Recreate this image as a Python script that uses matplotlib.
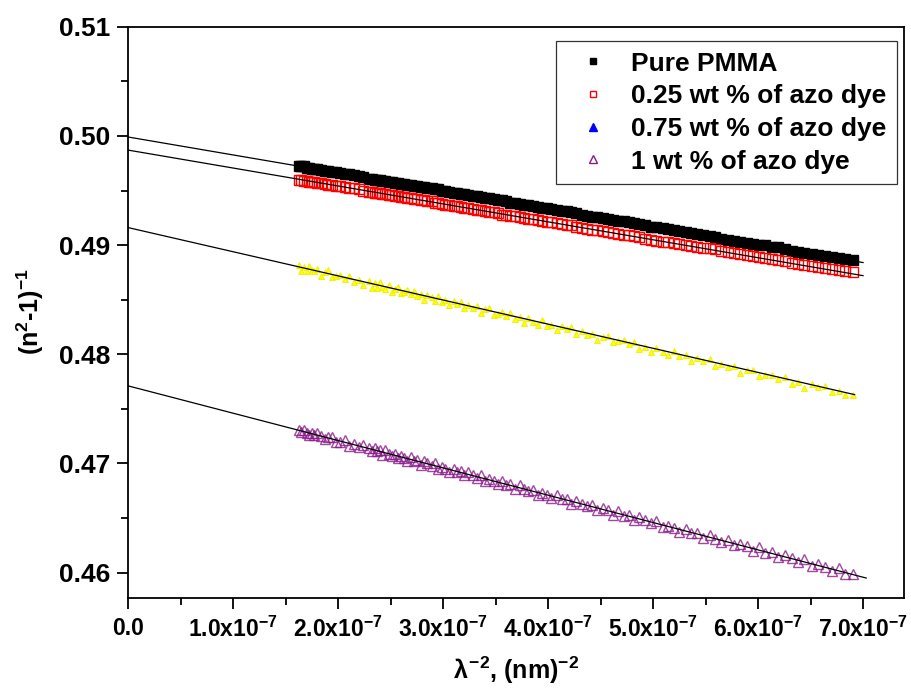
import numpy as np
import matplotlib
matplotlib.use("Agg")
import matplotlib.pyplot as plt
from matplotlib.lines import Line2D
from matplotlib.ticker import MultipleLocator, FormatStrFormatter

plt.rcParams["font.family"] = ["Liberation Sans", "DejaVu Sans"]
plt.rcParams["font.weight"] = "bold"
plt.rcParams["mathtext.fontset"] = "custom"
plt.rcParams["mathtext.rm"] = "Liberation Sans:bold"
plt.rcParams["mathtext.it"] = "Liberation Sans:bold"
plt.rcParams["mathtext.bf"] = "Liberation Sans:bold"

# lambda^-2 in units of 1e-7 nm^-2 (shared by all four samples)
x_vals = [1.63, 1.65, 1.67, 1.70, 1.72, 1.75, 1.77, 1.80, 1.84, 1.87,
          1.90, 1.94, 1.98, 2.02, 2.06, 2.10, 2.15, 2.20, 2.24,
          2.29, 2.32, 2.35, 2.37, 2.40, 2.42, 2.45, 2.48, 2.51, 2.54,
          2.57, 2.60, 2.63, 2.66, 2.69, 2.72, 2.75, 2.79, 2.82, 2.85,
          2.89, 2.92, 2.95, 2.99, 3.02, 3.06, 3.10, 3.13, 3.17, 3.20,
          3.24, 3.28, 3.32, 3.36, 3.40, 3.44, 3.48, 3.52, 3.56, 3.60,
          3.64, 3.68, 3.73, 3.77, 3.81, 3.86, 3.90, 3.94, 3.99, 4.03,
          4.08, 4.13, 4.18, 4.22, 4.27, 4.32, 4.37, 4.42, 4.47, 4.52,
          4.57, 4.62, 4.67, 4.72, 4.77, 4.82, 4.87, 4.92, 4.98, 5.03,
          5.09, 5.14, 5.20, 5.25, 5.31, 5.36, 5.42, 5.48, 5.54, 5.59,
          5.65, 5.71, 5.77, 5.83, 5.89, 5.95, 6.01, 6.07, 6.13, 6.19,
          6.26, 6.32, 6.38, 6.44, 6.51, 6.57, 6.64, 6.70, 6.77, 6.83,
          6.90]

pure_pmma = [0.4972, 0.4972, 0.4972, 0.4971, 0.4971, 0.4970, 0.4970, 0.4970, 0.4969, 0.4968,
             0.4968, 0.4967, 0.4967, 0.4966, 0.4965, 0.4965, 0.4964, 0.4963, 0.4962,
             0.4961, 0.4961, 0.4960, 0.4960, 0.4960, 0.4959, 0.4959, 0.4958, 0.4958, 0.4957,
             0.4957, 0.4956, 0.4956, 0.4955, 0.4955, 0.4954, 0.4954, 0.4953, 0.4953, 0.4952,
             0.4952, 0.4951, 0.4951, 0.4950, 0.4950, 0.4949, 0.4948, 0.4948, 0.4947, 0.4947,
             0.4946, 0.4945, 0.4945, 0.4944, 0.4943, 0.4943, 0.4942, 0.4941, 0.4941, 0.4940,
             0.4939, 0.4939, 0.4938, 0.4937, 0.4937, 0.4936, 0.4935, 0.4934, 0.4934, 0.4933,
             0.4932, 0.4931, 0.4931, 0.4930, 0.4929, 0.4928, 0.4927, 0.4926, 0.4926, 0.4925,
             0.4924, 0.4923, 0.4922, 0.4922, 0.4921, 0.4920, 0.4919, 0.4918, 0.4917, 0.4917,
             0.4916, 0.4915, 0.4914, 0.4913, 0.4912, 0.4911, 0.4910, 0.4909, 0.4908, 0.4907,
             0.4906, 0.4905, 0.4904, 0.4903, 0.4902, 0.4901, 0.4900, 0.4900, 0.4898, 0.4898,
             0.4896, 0.4895, 0.4894, 0.4893, 0.4892, 0.4891, 0.4890, 0.4889, 0.4888, 0.4887,
             0.4886]

dye_025 = [0.4960, 0.4960, 0.4959, 0.4959, 0.4958, 0.4958, 0.4958, 0.4957, 0.4957, 0.4956,
           0.4955, 0.4955, 0.4954, 0.4954, 0.4953, 0.4952, 0.4952, 0.4951, 0.4950,
           0.4949, 0.4949, 0.4948, 0.4948, 0.4948, 0.4947, 0.4947, 0.4946, 0.4946, 0.4945,
           0.4945, 0.4944, 0.4944, 0.4943, 0.4943, 0.4942, 0.4942, 0.4941, 0.4941, 0.4940,
           0.4940, 0.4939, 0.4939, 0.4938, 0.4937, 0.4937, 0.4936, 0.4936, 0.4935, 0.4934,
           0.4934, 0.4933, 0.4932, 0.4932, 0.4931, 0.4930, 0.4930, 0.4929, 0.4928, 0.4928,
           0.4927, 0.4927, 0.4926, 0.4925, 0.4924, 0.4924, 0.4923, 0.4922, 0.4921, 0.4921,
           0.4920, 0.4919, 0.4918, 0.4918, 0.4917, 0.4916, 0.4915, 0.4914, 0.4914, 0.4913,
           0.4912, 0.4911, 0.4910, 0.4909, 0.4909, 0.4908, 0.4907, 0.4906, 0.4905, 0.4904,
           0.4903, 0.4903, 0.4902, 0.4901, 0.4900, 0.4899, 0.4898, 0.4897, 0.4897, 0.4896,
           0.4895, 0.4894, 0.4893, 0.4892, 0.4891, 0.4890, 0.4889, 0.4888, 0.4887, 0.4886,
           0.4885, 0.4884, 0.4883, 0.4882, 0.4881, 0.4880, 0.4879, 0.4878, 0.4877, 0.4876,
           0.4875]

dye_075 = [0.4882, 0.4876, 0.4880, 0.4876, 0.4881, 0.4877, 0.4876, 0.4878, 0.4872, 0.4875,
           0.4877, 0.4871, 0.4872, 0.4873, 0.4869, 0.4872, 0.4866, 0.4868, 0.4863,
           0.4867, 0.4861, 0.4865, 0.4861, 0.4866, 0.4862, 0.4860, 0.4863, 0.4857, 0.4860,
           0.4862, 0.4856, 0.4857, 0.4859, 0.4855, 0.4858, 0.4853, 0.4855, 0.4850, 0.4854,
           0.4852, 0.4849, 0.4853, 0.4848, 0.4850, 0.4845, 0.4849, 0.4846, 0.4848, 0.4842,
           0.4845, 0.4842, 0.4844, 0.4838, 0.4841, 0.4842, 0.4836, 0.4837, 0.4839, 0.4835,
           0.4838, 0.4832, 0.4834, 0.4829, 0.4833, 0.4830, 0.4827, 0.4831, 0.4826, 0.4827,
           0.4822, 0.4826, 0.4823, 0.4825, 0.4819, 0.4821, 0.4818, 0.4819, 0.4813, 0.4816,
           0.4817, 0.4811, 0.4812, 0.4813, 0.4809, 0.4811, 0.4805, 0.4807, 0.4802, 0.4806,
           0.4802, 0.4799, 0.4803, 0.4798, 0.4799, 0.4794, 0.4797, 0.4794, 0.4796, 0.4789,
           0.4791, 0.4788, 0.4789, 0.4783, 0.4786, 0.4786, 0.4780, 0.4781, 0.4781, 0.4777,
           0.4779, 0.4773, 0.4775, 0.4769, 0.4773, 0.4770, 0.4771, 0.4765, 0.4766, 0.4763,
           0.4763]

dye_1 = [0.4731, 0.4729, 0.4731, 0.4728, 0.4726, 0.4728, 0.4726, 0.4728, 0.4725, 0.4722,
         0.4724, 0.4724, 0.4720, 0.4720, 0.4721, 0.4716, 0.4718, 0.4715, 0.4717,
         0.4714, 0.4711, 0.4714, 0.4711, 0.4712, 0.4708, 0.4712, 0.4709, 0.4707, 0.4709,
         0.4705, 0.4707, 0.4705, 0.4702, 0.4706, 0.4702, 0.4703, 0.4699, 0.4702, 0.4700,
         0.4698, 0.4700, 0.4695, 0.4697, 0.4695, 0.4692, 0.4695, 0.4692, 0.4693, 0.4689,
         0.4692, 0.4689, 0.4687, 0.4689, 0.4684, 0.4686, 0.4684, 0.4681, 0.4684, 0.4680,
         0.4681, 0.4677, 0.4680, 0.4677, 0.4675, 0.4676, 0.4671, 0.4673, 0.4671, 0.4668,
         0.4671, 0.4667, 0.4667, 0.4663, 0.4666, 0.4663, 0.4661, 0.4662, 0.4657, 0.4659,
         0.4657, 0.4653, 0.4656, 0.4652, 0.4653, 0.4648, 0.4651, 0.4648, 0.4645, 0.4647,
         0.4642, 0.4643, 0.4641, 0.4637, 0.4640, 0.4636, 0.4636, 0.4632, 0.4634, 0.4631,
         0.4628, 0.4630, 0.4625, 0.4626, 0.4624, 0.4620, 0.4623, 0.4618, 0.4619, 0.4614,
         0.4616, 0.4613, 0.4610, 0.4612, 0.4606, 0.4608, 0.4605, 0.4601, 0.4604, 0.4599,
         0.4599]

# linear fits: value at x=0 and at the end of each drawn line
fit_y_start = [0.4999, 0.4987, 0.4916, 0.4771]
fit_x_end = [7.00, 7.00, 6.92, 7.03]
fit_y_end = [0.4884, 0.4872, 0.4763, 0.4595]

labels = ["Pure PMMA", "0.25 wt % of azo dye", "0.75 wt % of azo dye", "1 wt % of azo dye"]
xtick_vals = [0, 1, 2, 3, 4, 5, 6, 7]
xtick_labels = ["0.0"] + [f"{v}.0x10$^{{-7}}$" for v in xtick_vals[1:]]

x = np.array(x_vals) * 1e-7

fig = plt.figure(figsize=(9.11, 6.9), dpi=100)
ax = fig.add_axes([0.1408, 0.1338, 0.8515, 0.8274])

ax.plot(x, pure_pmma, ls="none", marker="s", ms=7, color="black", mec="black")
ax.plot(x, dye_025, ls="none", marker="s", ms=6.5, mfc="none", mec="red", mew=1.0)
ax.plot(x, dye_075, ls="none", marker="^", ms=4, color="#ffff00", mec="#eeee00", mew=0.6)
ax.plot(x, dye_1, ls="none", marker="^", ms=7, mfc="none", mec="#8a1a8a", mew=1.0, alpha=0.8)

for y0, xe, ye in zip(fit_y_start, fit_x_end, fit_y_end):
    ax.plot([0, xe * 1e-7], [y0, ye], color="black", lw=0.9, zorder=5)

ax.set_xlim(0, 7.39e-7)
ax.set_ylim(0.4577, 0.51)
ax.set_xticks([v * 1e-7 for v in xtick_vals])
ax.set_xticklabels(xtick_labels)
ax.xaxis.set_minor_locator(MultipleLocator(0.5e-7))
ax.yaxis.set_major_locator(MultipleLocator(0.01))
ax.yaxis.set_minor_locator(MultipleLocator(0.005))
ax.yaxis.set_major_formatter(FormatStrFormatter("%.2f"))

ax.tick_params(which="both", direction="out", width=1.3, top=False, right=False)
ax.tick_params(which="major", length=8)
ax.tick_params(which="minor", length=5)
ax.tick_params(axis="x", labelsize=16.5, pad=6)
ax.tick_params(axis="y", labelsize=19, pad=5)
for lab in ax.get_xticklabels() + ax.get_yticklabels():
    lab.set_fontweight("bold")
for sp in ax.spines.values():
    sp.set_linewidth(1.3)

ax.set_xlabel(r"$\lambda^{-2}$, (nm)$^{-2}$", fontsize=18, fontweight="bold", labelpad=9)
ax.set_ylabel(r"(n$^{2}$-1)$^{-1}$", fontsize=18, fontweight="bold", labelpad=9)

handles = [
    Line2D([], [], ls="none", marker="s", ms=5, color="black"),
    Line2D([], [], ls="none", marker="s", ms=5, mfc="none", mec="red", mew=1.0),
    Line2D([], [], ls="none", marker="^", ms=5.5, color="blue"),
    Line2D([], [], ls="none", marker="^", ms=5.5, mfc="none", mec="#8a1a8a", mew=1.0),
]
leg = ax.legend(handles, labels, loc="upper right", bbox_to_anchor=(0.991, 0.975),
                prop={"weight": "bold", "size": 19}, frameon=True, fancybox=False,
                handlelength=2.0, handletextpad=0.45, labelspacing=0.33, borderpad=0.4,
                borderaxespad=0, numpoints=1)
leg.get_frame().set_edgecolor("black")
leg.get_frame().set_linewidth(0.9)

fig.savefig("out.png", dpi=100)
